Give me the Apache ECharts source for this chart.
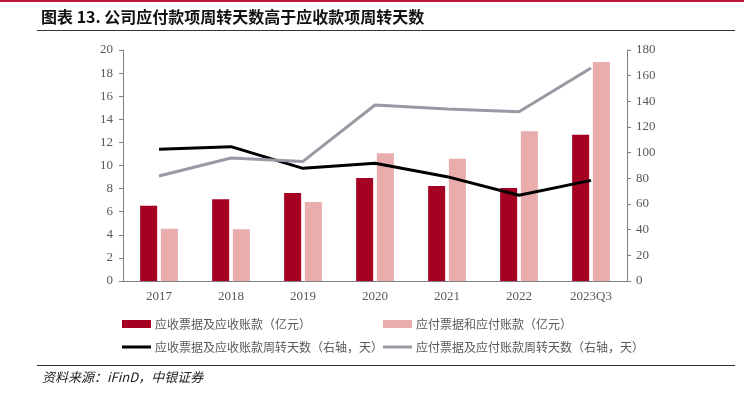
<!DOCTYPE html>
<html>
<head>
<meta charset="utf-8">
<script src="https://cdn.jsdelivr.net/npm/echarts@6/dist/echarts.min.js"></script>
<style>
  html, body { margin: 0; padding: 0; background: #fff; }
  #main { width: 744px; height: 399px; }
</style>
</head>
<body>
<div id="main"></div>
<script>
// 数据
var categories = ["2017", "2018", "2019", "2020", "2021", "2022", "2023Q3"];
var receivable = [6.52, 7.07, 7.62, 8.92, 8.22, 8.05, 12.67];      // 应收票据及应收账款（亿元）
var payable = [4.53, 4.47, 6.84, 11.05, 10.59, 12.96, 18.96];       // 应付票据和应付账款（亿元）
var receivableDays = [102.6, 104.7, 87.8, 91.7, 81.3, 66.8, 78.4];  // 右轴，天
var payableDays = [81.8, 95.8, 93.2, 137.1, 134.0, 131.9, 166.0];   // 右轴，天

var names = [
  "应收票据及应收账款（亿元）",
  "应付票据和应付账款（亿元）",
  "应收票据及应收账款周转天数（右轴，天）",
  "应付票据及应付账款周转天数（右轴，天）"
];

var serif = "'Liberation Serif', 'Noto Sans CJK SC', serif";
var cjk = "'Noto Sans CJK SC', sans-serif";

var axisGray = "#808080";

var chart = echarts.init(document.getElementById("main"));

function legendItem (name, left, top, h) {
  return {
    data: [name],
    left: left,
    top: top,
    icon: "rect",
    itemWidth: 29,
    itemHeight: h,
    itemGap: 0,
    padding: 0,
    selectedMode: false,
    textStyle: { fontFamily: cjk, fontSize: 12, color: "#595959", padding: [0, 0, 0, -1] }
  };
}

chart.setOption({
  animation: false,
  color: ["#a50021", "#e8adac", "#000000", "#9a98a2"],
  graphic: [
    { type: "rect", shape: { x: 0, y: 0, width: 744, height: 2 }, style: { fill: "#c0143c" } },
    {
      type: "text", left: 41, top: 9,
      style: { text: "图表 13. 公司应付款项周转天数高于应收款项周转天数", font: "bold 16px " + cjk, fill: "#111" }
    },
    { type: "rect", shape: { x: 37, y: 30, width: 698, height: 1 }, style: { fill: "#333" } },
    { type: "rect", shape: { x: 37, y: 365, width: 698, height: 1 }, style: { fill: "#333" } },
    {
      type: "text", left: 42, top: 371,
      style: { text: "资料来源：iFinD，中银证券", font: "italic 13px " + cjk, fill: "#222" }
    }
  ],
  legend: [
    legendItem(names[0], 122, 318, 8),
    legendItem(names[1], 383, 318, 8),
    legendItem(names[2], 122, 341, 3),
    legendItem(names[3], 383, 341, 3)
  ],
  grid: { left: 123, right: 117, top: 50, bottom: 118 },
  xAxis: {
    type: "category",
    data: categories,
    axisLine: { lineStyle: { color: axisGray } },
    axisTick: { length: 4, lineStyle: { color: axisGray } },
    axisLabel: { fontFamily: serif, fontSize: 13, color: "#595959", margin: 9 }
  },
  yAxis: [
    {
      type: "value",
      min: 0, max: 20, interval: 2,
      axisLine: { show: true, lineStyle: { color: axisGray } },
      axisTick: { show: true, length: 4, lineStyle: { color: axisGray } },
      splitLine: { show: false },
      axisLabel: { fontFamily: serif, fontSize: 13, color: "#595959", margin: 10 }
    },
    {
      type: "value",
      min: 0, max: 180, interval: 20,
      axisLine: { show: true, lineStyle: { color: axisGray } },
      axisTick: { show: true, length: 4, lineStyle: { color: axisGray } },
      splitLine: { show: false },
      axisLabel: { fontFamily: serif, fontSize: 13, color: "#595959", margin: 9 }
    }
  ],
  series: [
    { name: names[0], type: "bar", barWidth: 17, barGap: "22%", data: receivable },
    { name: names[1], type: "bar", barWidth: 17, data: payable },
    {
      name: names[2], type: "line", yAxisIndex: 1, symbol: "none",
      lineStyle: { width: 3 }, data: receivableDays
    },
    {
      name: names[3], type: "line", yAxisIndex: 1, symbol: "none",
      lineStyle: { width: 3 }, data: payableDays
    }
  ]
});
</script>
</body>
</html>
